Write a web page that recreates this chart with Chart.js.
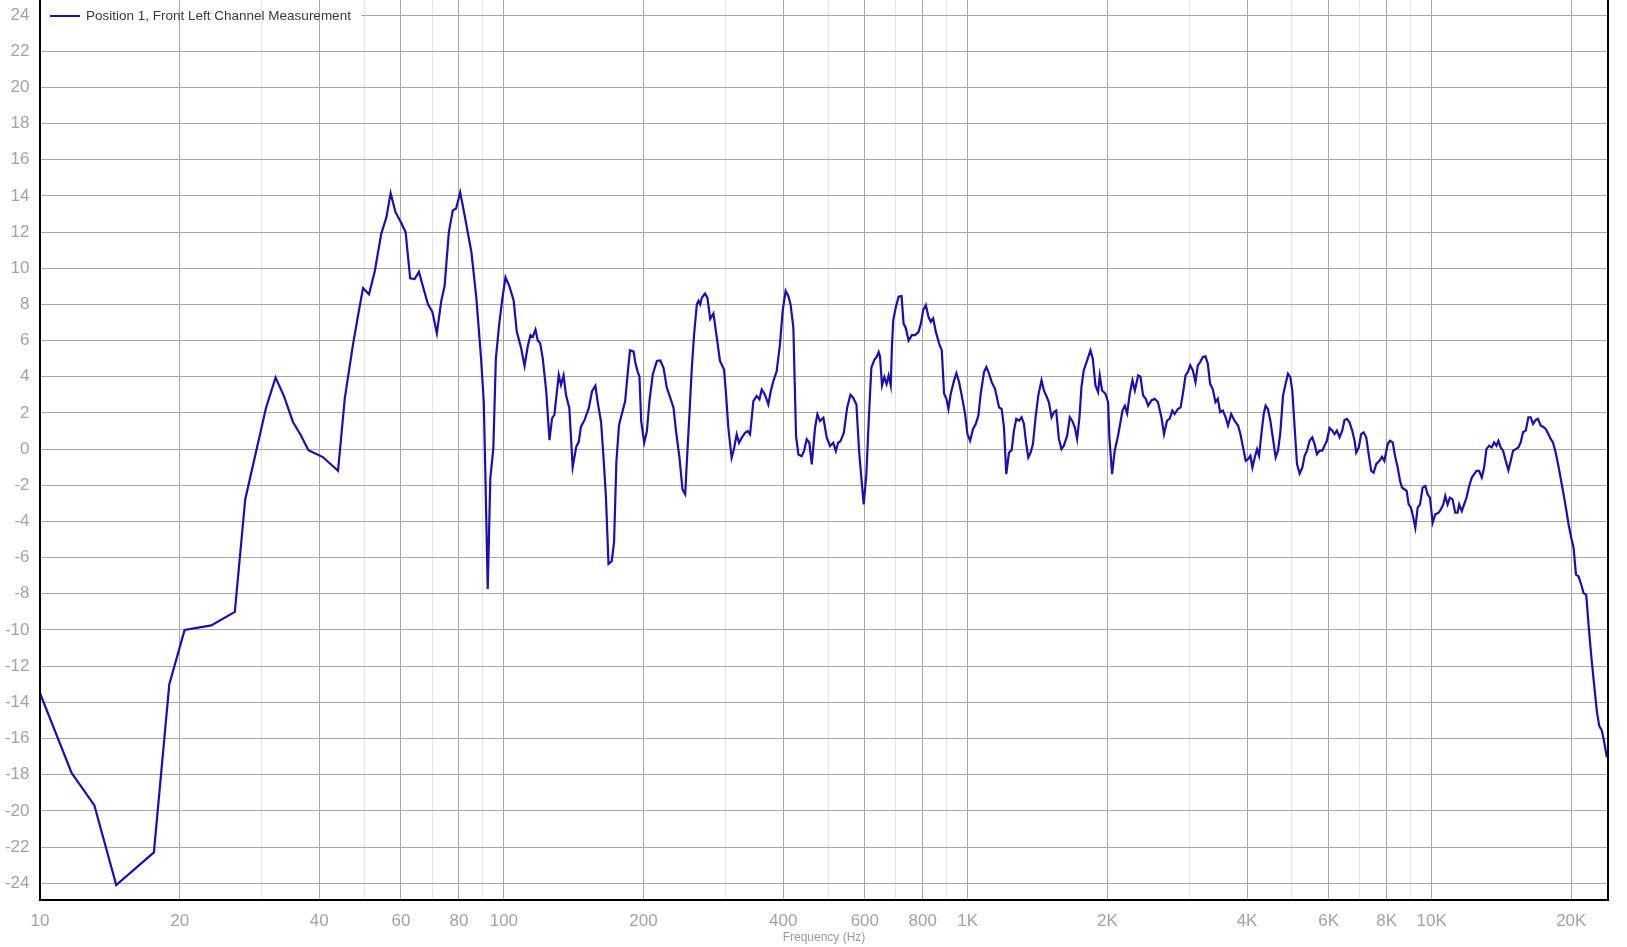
<!DOCTYPE html>
<html>
<head>
<meta charset="utf-8">
<script src="https://cdn.jsdelivr.net/npm/chart.js@4.4.0/dist/chart.umd.min.js"></script>
<style>
html, body { margin: 0; padding: 0; background: #ffffff; overflow: hidden; }
canvas { display: block; }
</style>
</head>
<body>
<canvas id="c" width="1627" height="947"></canvas>
<script>
// ---- data ----
const seriesName = 'Position 1, Front Left Channel Measurement';
const xAxisTitle = 'Frequency (Hz)';

const freqHz = [
  10, 11.7, 13.1, 14.6, 17.6, 19.0, 20.5, 23.4, 26.3, 27.7, 30.7, 32.2, 33.6, 35.1, 36.5, 37.9, 40.7,
  43.9, 45.4, 47.3, 48.5, 49.7, 51.2, 52.7, 54.4, 55.8, 57.0, 58.4, 60.1, 61.4, 62.8, 64.2, 65.6, 66.9,
  68.6, 70.1, 71.7, 73.3, 74.5, 76.1, 77.6, 78.9, 80.5, 82.2, 85.1, 87.2, 89.3, 90.5, 91.2, 92.3, 93.5,
  94.9, 96.1, 97.7, 99.1, 100.8, 102.8, 105, 106.6, 108.9, 110.8, 112.6, 114.1, 115.4, 117, 118.3, 119.7,
  121.3, 123.4, 125.4, 127, 128.5, 131.3, 132.8, 134.5, 136.1, 138.4, 140.7, 143.2, 145, 146.6, 149.2,
  152.4, 154.9, 157.5, 159.3, 162, 163.8, 165.9, 168.1, 170.8, 172.8, 174.8, 177.1,
  182.6, 184.8, 187, 190.4, 192, 194.2, 196, 197.7, 200.7, 203.4, 206, 209.4, 213.7, 217.3, 220.9, 224.5,
  229, 232.1, 235, 239.1, 242.7, 246, 247.8, 251.2, 254.2, 257.1, 260.6, 262.8, 265, 267.1, 271.5, 274.6,
  278.5, 283, 287.6, 292.3, 298.3, 301.3, 304.7, 309.7, 313.3, 317.6, 321.3, 325.7, 331.1, 335.5, 339.4,
  345.1, 350.8, 355.6, 359.6, 363.9, 367.4, 371.6, 376.1, 381, 387.3, 393.8, 399, 405, 410.4, 415, 420.8,
  426.4, 431.5, 438.5, 443.6, 449.6, 455.6, 461, 468.6, 474.1, 480.3, 488.4, 496.6, 504.8, 513, 519.5,
  525.6, 531.7, 540.6, 549.6, 558.6, 566.2, 575.4, 583.1, 589.8, 596.6, 604.5, 612.6, 619.7,
  629, 636.3, 642.6, 646.9, 653.4, 660.9, 668.4, 675.2, 682.3, 686.3, 690.9, 700.1, 709.5, 720, 727.2,
  735.7, 745.5, 757.9, 770.4, 783.4, 792.5, 801.7, 812.3, 823, 832.6, 842.3, 853.5, 867.6, 879, 889.2,
  899.5, 908.6, 919, 934.5, 945.3, 958, 970.5, 987, 998.4, 1011.6, 1026.8, 1040.4, 1054.3, 1066.4, 1084,
  1096.6, 1111.5, 1126.2, 1145, 1168, 1183.3, 1197, 1210.8, 1227.1, 1243.4, 1257.8, 1272.6, 1289.4,
  1306.5, 1321.7, 1337, 1350.7, 1366.3, 1382, 1400.4, 1419, 1442.2, 1459, 1476, 1496, 1515.7, 1533.2,
  1551, 1572, 1592.3, 1611, 1638, 1659.6, 1679, 1701.5, 1721, 1741.3, 1758.3, 1778.5, 1808.6, 1838.8,
  1860.2, 1885, 1909.8, 1925.6, 1948, 1980.6, 2006.8, 2020, 2047, 2074, 2108.6,
  2155.7, 2181, 2206, 2235, 2265, 2292, 2330, 2357, 2388, 2420, 2448, 2489, 2529, 2570, 2615, 2649, 2689,
  2724, 2761, 2793, 2838, 2876, 2909, 2948, 2982, 3017, 3057, 3097, 3133, 3170, 3212, 3254, 3292, 3330,
  3373, 3420, 3460, 3500, 3548, 3597, 3639, 3698, 3759, 3826, 3870, 3922, 3974, 4018, 4068, 4108, 4156,
  4204, 4246, 4295, 4345, 4386, 4437, 4491, 4550, 4611, 4665, 4719, 4782, 4845, 4901, 4959, 5008, 5066,
  5126, 5194, 5263, 5324, 5386, 5457, 5529, 5594, 5659, 5734, 5811, 5878, 5946, 6026, 6106, 6177, 6248,
  6332, 6416, 6490, 6567, 6652, 6742, 6821, 6878, 6966, 7047, 7134, 7228, 7325, 7409, 7498, 7596,
  7718, 7817, 7907, 8042, 8135, 8241, 8353, 8450, 8549, 8633, 8733, 8834, 8922, 9027, 9131, 9222, 9330,
  9440, 9563, 9691, 9803, 9917, 10050, 10183, 10353, 10473, 10595, 10700, 10825, 10950, 11096, 11243,
  11374, 11466, 11618, 11750, 11891, 12048, 12207, 12351, 12494, 12659, 12826, 12977, 13127, 13301,
  13477, 13636, 13795, 13929, 14091, 14257, 14448, 14640, 14810, 14981, 15182, 15380, 15559, 15739,
  15955, 16166, 16353, 16543, 16765, 16958, 17183, 17378, 17620, 17850, 18057, 18266, 18511,
  18790, 19250, 19475, 19735, 20000, 20233, 20470, 20740, 21018, 21260, 21543, 21793, 22081, 22337,
  22710, 22978, 23281, 23551, 23866
];

const splDb = [
  -13.5, -17.9, -19.7, -24.1, -22.3, -13.0, -10.0, -9.75, -9.0, -2.77, 2.27, 3.95, 2.9, 1.5, 0.77, -0.06, -0.44,
  -1.2, 2.8, 5.8, 7.4, 8.9, 8.56, 9.85, 11.9, 12.8, 14.15, 13.1, 12.5, 12.0, 9.44, 9.4, 9.8, 9.0,
  8.0, 7.6, 6.4, 8.2, 9.0, 12.0, 13.2, 13.3, 14.2, 13.0, 10.9, 8.4, 5.0, 2.6, -1.26, -7.74, -1.6,
  0.04, 5.0, 6.9, 8.2, 9.5, 9.0, 8.2, 6.5, 5.6, 4.6, 5.7, 6.3, 6.2, 6.6, 6.0, 5.87,
  5.0, 3.2, 0.5, 1.7, 1.9, 4.1, 3.55, 4.07, 3.0, 2.26, -1.0, 0.13, 0.4, 1.24, 1.6,
  2.26, 3.2, 3.5, 2.6, 1.5, -0.28, -2.55, -6.35, -6.2, -5.15, -0.7, 1.33,
  2.66, 4.13, 5.46, 5.39, 4.78, 4.3, 4.0, 1.55, 0.35, 1.0, 2.66, 4.13, 4.87, 4.9, 4.5, 3.4,
  2.75, 2.29, 1.0, -0.48, -2.23, -2.5, -0.85, 1.92, 4.5, 6.35, 8.0, 8.2, 8.0, 8.37, 8.6, 8.37,
  7.2, 7.5, 6.2, 4.87, 4.4, 3.0, 1.18, -0.48, 0.0, 0.81, 0.35, 0.63, 0.9, 1.0, 0.81,
  2.66, 2.93, 2.75, 3.3, 3.1, 2.84, 2.47, 3.2, 3.76, 4.3, 5.8, 7.64, 8.75, 8.47, 8.0, 6.7,
  0.72, -0.3, -0.39, -0.11, 0.54, 0.35, -0.85, 1.18, 1.92, 1.55, 1.73, 0.63, 0.17, 0.35, -0.11,
  0.35, 0.44, 0.9, 2.29, 3.0, 2.84, 2.47, -0.11, -1.6, -3.06, -1.4, 1.92, 4.5,
  4.94, 5.1, 5.37, 5.13, 3.52, 3.98, 3.6, 4.07, 3.52, 5.65, 7.13, 7.87, 8.43, 8.46, 6.94,
  6.67, 6.0, 6.3, 6.3, 6.48, 6.94, 7.69, 7.96, 7.3, 7.04, 7.22, 6.48, 5.83, 5.46, 3.06,
  2.78, 2.22, 3.06, 3.8, 4.2, 3.7, 2.96, 1.94, 0.83, 0.46, 1.11, 1.39, 1.85, 3.06, 4.26,
  4.54, 4.17, 3.7, 3.33, 2.31, 2.22, 1.2, -1.39, -0.19, -0.06, 1.02, 1.67, 1.57,
  1.76, 1.39, 0.28, -0.46, -0.19, 0.28, 1.76, 2.96, 3.8, 3.24, 2.96, 2.59, 1.76, 2.04,
  2.13, 0.56, 0.0, 0.19, 0.74, 1.76, 1.57, 1.2, 0.56, 1.76, 3.43, 4.35, 4.9, 5.46,
  5.0, 3.52, 3.15, 4.07, 3.24, 3.06, 2.59, 0.65, -1.39, -0.09, 0.74,
  2.13, 2.4, 1.98, 3.06, 3.8, 3.24, 4.07, 4.0, 2.96, 2.78, 2.4, 2.69, 2.78, 2.6, 1.76, 0.83, 1.57,
  1.67, 2.13, 1.94, 2.22, 2.31, 3.06, 4.07, 4.26, 4.63, 4.35, 3.7, 4.63, 4.81, 5.09, 5.13, 4.72, 3.61,
  3.33, 2.6, 2.78, 2.04, 2.13, 1.76, 1.3, 1.94, 1.57, 1.3, 0.83, 0.09, -0.65, -0.56, -0.37, -1.02, -0.46,
  0.0, -0.37, 0.83, 1.94, 2.4, 2.22, 1.57, 0.56, -0.46, -0.09, 0.93, 2.96, 3.61, 4.17, 3.98, 3.24, 1.2,
  -0.83, -1.35, -1.02, -0.37, -0.09, 0.46, 0.65, 0.28, -0.28, -0.09, -0.09, 0.19, 0.46, 1.17, 1.02, 0.83, 1.02,
  0.65, 1.02, 1.61, 1.67, 1.48, 1.02, 0.46, -0.19, 0.09, 0.83, 0.93, 0.65, -0.37, -1.2, -1.3, -0.83,
  -0.65, -0.43, -0.65, 0.28, 0.46, 0.37, -0.46, -1.02, -1.76, -2.13, -2.22, -2.31, -3.06, -3.24, -3.8, -4.35, -3.24,
  -3.06, -2.13, -2.04, -2.5, -2.69, -4.07, -3.61, -3.52, -3.33, -3.06, -2.59, -3.06, -2.69, -2.78, -3.52,
  -3.52, -3.06, -3.43, -3.06, -2.69, -2.04, -1.57, -1.39, -1.2, -1.2, -1.57, -1.02, 0.0, 0.19,
  0.09, 0.37, 0.19, 0.46, 0.09, -0.09, -0.65, -1.17, -0.65, -0.09, 0.0, 0.09, 0.37, 0.93,
  1.02, 1.76, 1.76, 1.39, 1.61, 1.67, 1.3, 1.24, 1.11, 0.83, 0.56, 0.37, -0.19,
  -1.02, -2.5, -3.24, -4.17, -4.9, -5.46, -6.94, -7.04, -7.5, -7.96, -8.06, -9.72, -11.4, -12.7,
  -14.5, -15.3, -15.56, -16.2, -17.04
];

// x-axis tick marks: labelled (major) and unlabelled (minor) frequencies
const majorFreqs  = [10, 20, 40, 60, 80, 100, 200, 400, 600, 800, 1000, 2000, 4000, 6000, 8000, 10000, 20000];
const majorLabels = ['10', '20', '40', '60', '80', '100', '200', '400', '600', '800', '1K', '2K', '4K', '6K', '8K', '10K', '20K'];
const minorFreqs  = [30, 50, 70, 90, 300, 500, 700, 900, 3000, 5000, 7000, 9000];

// y-axis ticks (dB): even values are labelled, odd values are light grid lines
const yTickValues = [-24, -23, -22, -21, -20, -19, -18, -17, -16, -15, -14, -13, -12, -11, -10, -9, -8, -7, -6, -5, -4, -3, -2, -1,
                     0, 1, 2, 3, 4, 5, 6, 7, 8, 9, 10, 11, 12, 13, 14, 15, 16, 17, 18, 19, 20, 21, 22, 23, 24];

// ---- styling ----
const LINE_COLOR = '#1b0eb2';
const GRID_MAJOR = '#a8a8a8';
const GRID_MINOR = '#e6e6e6';
const TICK_COLOR = '#a3a3a3';
const FONT = '"Liberation Sans", Arial, sans-serif';
const LEGEND_W = 320;

const allXTicks = majorFreqs.concat(minorFreqs).sort((a, b) => a - b);
const alignPx = p => Math.round(p - 0.5) + 0.5;

const overlayPlugin = {
  id: 'overlay',
  beforeDatasetsDraw(chart) {
    // the legend hides the top horizontal grid line only; vertical lines run through it
    const { ctx, chartArea: a, scales: { x, y } } = chart;
    const yy = alignPx(y.getPixelForValue(24));
    ctx.save();
    ctx.fillStyle = '#ffffff';
    ctx.fillRect(a.left + 1, yy - 1.5, LEGEND_W, 3);
    ctx.lineWidth = 1;
    allXTicks.forEach(v => {
      const px = alignPx(x.getPixelForValue(v));
      if (px > a.left + 1 && px < a.left + 1 + LEGEND_W) {
        ctx.strokeStyle = minorFreqs.includes(v) ? GRID_MINOR : GRID_MAJOR;
        ctx.beginPath();
        ctx.moveTo(px, yy - 2);
        ctx.lineTo(px, yy + 2);
        ctx.stroke();
      }
    });
    ctx.restore();
  },
  afterDraw(chart) {
    const { ctx, chartArea: a } = chart;
    ctx.save();
    // plot frame (left, bottom, right)
    ctx.strokeStyle = '#000000';
    ctx.lineWidth = 2;
    ctx.beginPath();
    ctx.moveTo(a.left, a.top);
    ctx.lineTo(a.left, a.bottom);
    ctx.lineTo(a.right, a.bottom);
    ctx.lineTo(a.right, a.top);
    ctx.stroke();
    // legend entry
    ctx.strokeStyle = LINE_COLOR;
    ctx.lineWidth = 2;
    ctx.beginPath();
    ctx.moveTo(a.left + 10, a.top + 16);
    ctx.lineTo(a.left + 40, a.top + 16);
    ctx.stroke();
    ctx.fillStyle = '#3a3a3a';
    ctx.font = '13.5px ' + FONT;
    ctx.textBaseline = 'middle';
    ctx.textAlign = 'left';
    ctx.fillText(seriesName, a.left + 46, a.top + 16.5);
    ctx.restore();
  }
};

new Chart(document.getElementById('c'), {
  type: 'line',
  data: {
    datasets: [{
      label: seriesName,
      data: freqHz.map((f, i) => ({ x: f, y: splDb[i] })),
      borderColor: LINE_COLOR,
      borderWidth: 2.2,
      pointRadius: 0,
      tension: 0,
      fill: false
    }]
  },
  options: {
    responsive: false,
    animation: false,
    devicePixelRatio: 1,
    layout: { padding: { left: 0, right: 19, top: 0, bottom: 0 } },
    plugins: { legend: { display: false }, tooltip: { enabled: false } },
    scales: {
      x: {
        type: 'logarithmic',
        min: 10,
        max: 24000,
        afterBuildTicks: s => { s.ticks = allXTicks.map(v => ({ value: v })); },
        afterFit: s => { s.height = 47; s.paddingLeft = 0; s.paddingRight = 0; },
        border: { display: false },
        grid: {
          drawTicks: false,
          lineWidth: 1,
          color: c => (c.tick && minorFreqs.includes(c.tick.value)) ? GRID_MINOR : GRID_MAJOR
        },
        ticks: {
          autoSkip: false,
          maxRotation: 0,
          minRotation: 0,
          padding: 11.5,
          color: TICK_COLOR,
          font: { family: FONT, size: 17 },
          callback: v => { const i = majorFreqs.indexOf(v); return i >= 0 ? majorLabels[i] : ''; }
        },
        title: {
          display: true,
          text: xAxisTitle,
          color: '#9a9a9a',
          font: { family: FONT, size: 12 },
          padding: { top: 0, bottom: 2 }
        }
      },
      y: {
        type: 'linear',
        min: -24.93,
        max: 24.83,
        afterBuildTicks: s => { s.ticks = yTickValues.map(v => ({ value: v })); },
        afterFit: s => { s.width = 40; s.paddingTop = 0; s.paddingBottom = 0; },
        border: { display: false },
        grid: {
          drawTicks: false,
          lineWidth: 1,
          color: c => (c.tick && Math.abs(c.tick.value) % 2 === 1) ? GRID_MINOR : GRID_MAJOR
        },
        ticks: {
          padding: 10.5,
          color: TICK_COLOR,
          font: { family: FONT, size: 17 },
          callback: v => (Math.abs(v) % 2 === 0 ? String(v) : '')
        }
      }
    }
  },
  plugins: [overlayPlugin]
});
</script>
</body>
</html>
